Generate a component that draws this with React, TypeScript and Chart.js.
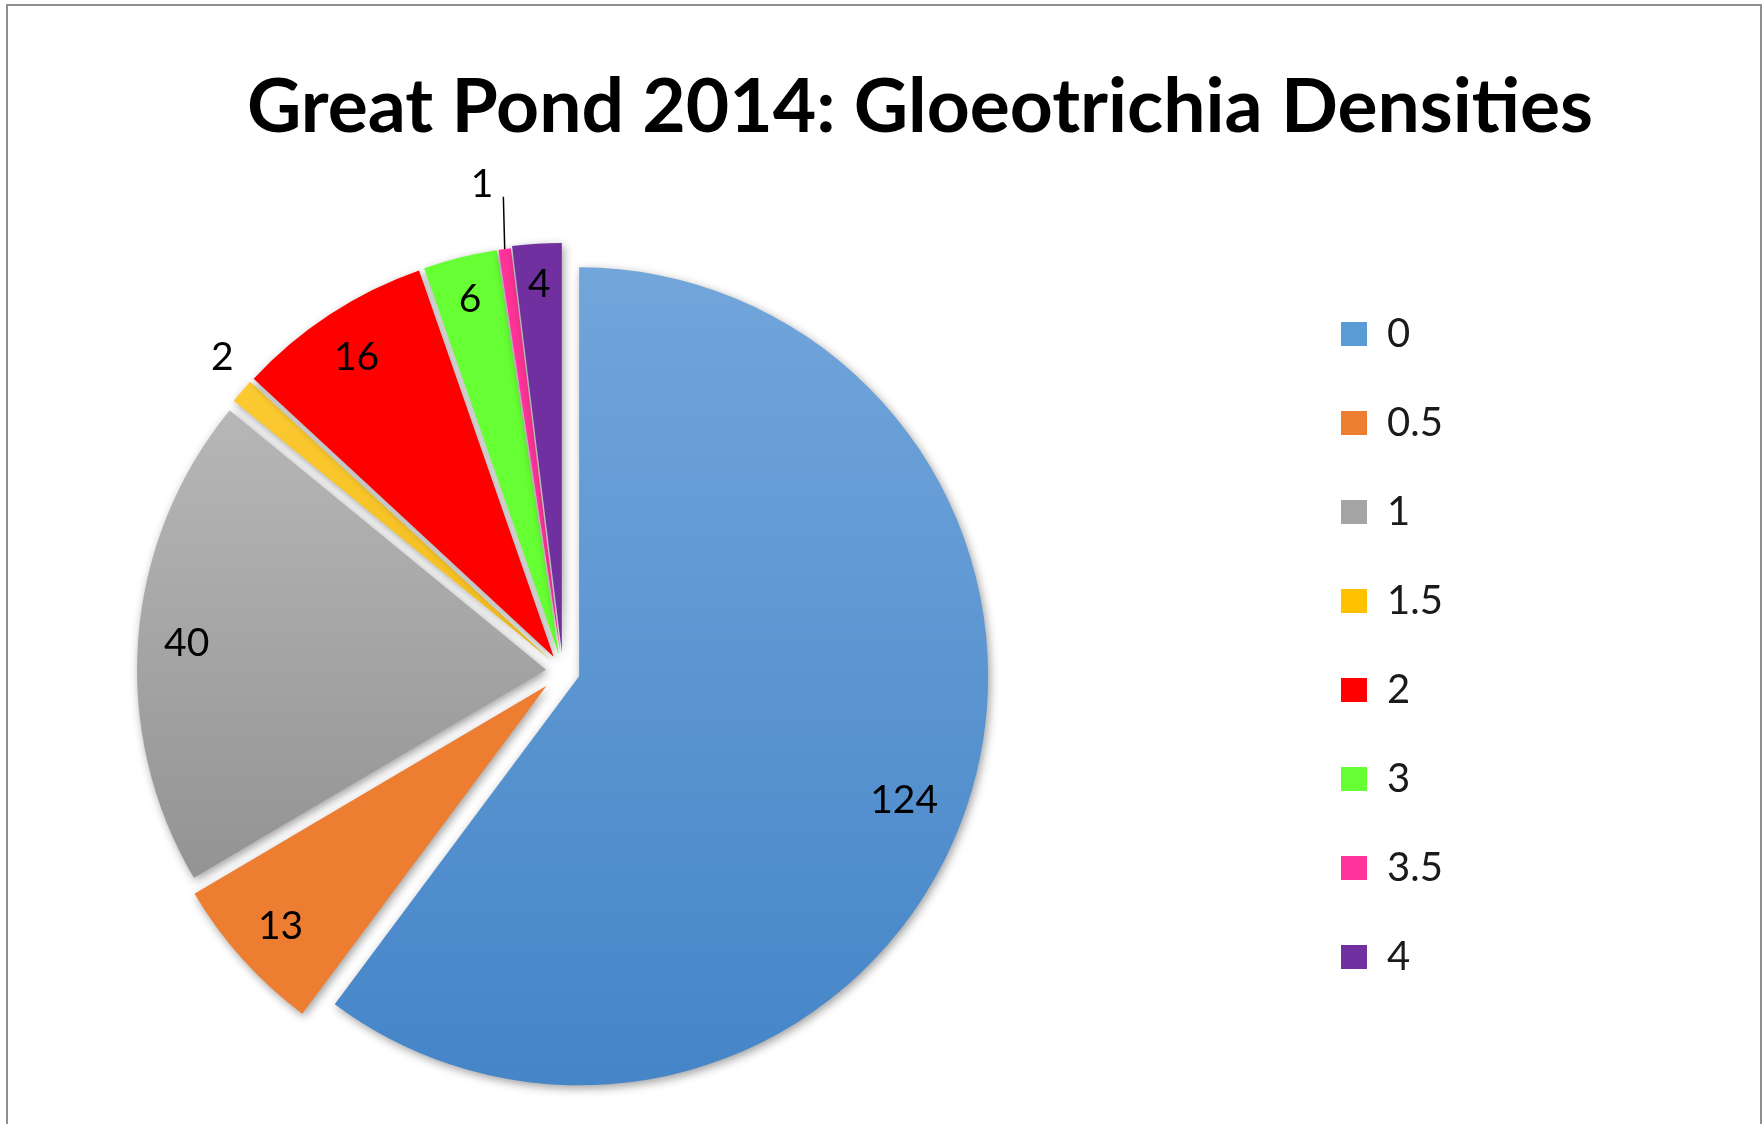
import React, { useEffect, useRef } from 'react';
import { Chart, registerables, layouts } from 'chart.js';

Chart.register(...registerables);

// ---- data ----
const TITLE = 'Great Pond 2014: Gloeotrichia Densities';
const CATEGORIES = ['0', '0.5', '1', '1.5', '2', '3', '3.5', '4'];
const COUNTS = [124, 13, 40, 2, 16, 6, 1, 4];

// ---- style ----
const W = 1764;
const H = 1124;
const BASE_COLORS = ['#5b9bd5', '#ed7d31', '#a5a5a5', '#ffc000', '#ff0000', '#66ff33', '#ff3399', '#7030a0'];
const GRADIENT_STOPS: Record<number, [string, string]> = {
  0: ['#72a6db', '#4585c8'],
  2: ['#c2c2c2', '#848484'],
  3: ['#ffcf3a', '#e6ab00'],
};
const PIE_RADIUS = 409;
const PIE_AREA_RIGHT = 1126; // pie area spans 0..1126 → centre x 563
const EXPLODE = [17, 22, 17, 17, 17, 17, 17, 19];
const FONT = 'Lato';
const LABEL_SIZE = 39;
const TITLE_SIZE = 75;
const LEGEND_SIZE = 40;
const LEGEND_PAD = 49;
const LEGEND_BOX_W = 26;
const LEGEND_BOX_H = 24;
const LEGEND_GAP = 166;
const LEADER_INDEX = 6;

const pieCenter = (chart: any) => {
  const ca = chart.chartArea;
  return { cx: (ca.left + ca.right) / 2, cy: (ca.top + ca.bottom) / 2 };
};

const sliceFill = (c: any) => {
  const i = c.dataIndex;
  const stops = GRADIENT_STOPS[i];
  const chart = c.chart;
  if (!stops || !chart.chartArea) return BASE_COLORS[i];
  const { cy } = pieCenter(chart);
  const g = chart.ctx.createLinearGradient(0, cy - PIE_RADIUS, 0, cy + PIE_RADIUS);
  g.addColorStop(0, stops[0]);
  g.addColorStop(1, stops[1]);
  return g;
};

// spacer between pie area and legend (a plain layout box)
const legendGapPlugin = {
  id: 'legendGap',
  beforeInit(chart: any) {
    const box: any = {
      position: 'right',
      weight: 500,
      fullSize: false,
      options: { stackWeight: 1 },
      left: 0, top: 0, right: 0, bottom: 0, width: 0, height: 0,
      isHorizontal() { return false; },
      update(_mw: number, mh: number) { this.width = LEGEND_GAP; this.height = mh; },
      draw() {},
    };
    layouts.addBox(chart, box);
  },
};

// explode slices + soft shadow
const explodePlugin = {
  id: 'explode',
  beforeDatasetDraw(chart: any, args: any) {
    const meta = chart.getDatasetMeta(args.index);
    const { cx, cy } = pieCenter(chart);
    meta.data.forEach((arc: any, i: number) => {
      const mid = (arc.startAngle + arc.endAngle) / 2;
      arc.x = cx + Math.cos(mid) * EXPLODE[i];
      arc.y = cy + Math.sin(mid) * EXPLODE[i];
    });
    const ctx = chart.ctx;
    ctx.save();
    ctx.shadowColor = 'rgba(0,0,0,0.38)';
    ctx.shadowBlur = 10;
    ctx.shadowOffsetX = 2;
    ctx.shadowOffsetY = 3;
  },
  afterDatasetDraw(chart: any) {
    chart.ctx.restore();
  },
};

const sliceLabelPlugin = {
  id: 'sliceLabels',
  afterDatasetsDraw(chart: any) {
    const meta = chart.getDatasetMeta(0);
    const ctx = chart.ctx;
    const total = COUNTS.reduce((a, b) => a + b, 0);
    ctx.save();
    ctx.font = `${LABEL_SIZE}px ${FONT}`;
    ctx.fillStyle = '#000';
    ctx.strokeStyle = '#000';
    ctx.textAlign = 'center';
    ctx.textBaseline = 'alphabetic';
    const hh = LABEL_SIZE * 0.36;
    meta.data.forEach((arc: any, i: number) => {
      const text = String(COUNTS[i]);
      const mid = (arc.startAngle + arc.endAngle) / 2;
      const R = arc.outerRadius;
      const hw = ctx.measureText(text).width / 2;
      const ext = (a: number) => Math.abs(hw * Math.cos(a)) + Math.abs(hh * Math.sin(a));
      let px: number;
      let py: number;
      if (COUNTS[i] / total >= 0.015) {
        const a = i === 0 ? mid + 0.04 : mid;
        const d = R - 25 - ext(a);
        px = arc.x + Math.cos(a) * d;
        py = arc.y + Math.sin(a) * d;
      } else if (i === LEADER_INDEX) {
        const a = mid - 0.028;
        const d = R + 69;
        px = arc.x + Math.cos(a) * d;
        py = arc.y + Math.sin(a) * d;
        const ex = arc.x + Math.cos(mid) * R;
        const ey = arc.y + Math.sin(mid) * R;
        ctx.lineWidth = 1.5;
        ctx.beginPath();
        ctx.moveTo(ex, ey);
        ctx.lineTo(px + hw + 10, py + hh);
        ctx.stroke();
      } else {
        const a = mid + 0.03;
        const d = R + 20 + ext(a);
        px = arc.x + Math.cos(a) * d;
        py = arc.y + Math.sin(a) * d;
      }
      ctx.fillText(text, px, py + hh);
    });
    ctx.restore();
  },
};

const titlePlugin = {
  id: 'pageTitle',
  afterDraw(chart: any) {
    const ctx = chart.ctx;
    ctx.save();
    ctx.font = `bold ${TITLE_SIZE}px ${FONT}`;
    ctx.fillStyle = '#000';
    ctx.textAlign = 'center';
    ctx.textBaseline = 'alphabetic';
    ctx.fillText(TITLE, 920, 132);
    ctx.restore();
  },
};

export default function App() {
  const ref = useRef<HTMLCanvasElement>(null);

  useEffect(() => {
    document.body.style.margin = '0';
    document.body.style.overflow = 'hidden';

    // legend width as Chart.js computes it, so the pie area ends where wanted
    const m = document.createElement('canvas').getContext('2d') as CanvasRenderingContext2D;
    m.font = `normal ${LEGEND_SIZE}px ${FONT}`;
    const maxText = Math.max(...CATEGORIES.map((t) => m.measureText(t).width));
    const legendWidth = LEGEND_PAD + LEGEND_BOX_W + LEGEND_SIZE / 2 + maxText + 10;
    const rightPad = W - PIE_AREA_RIGHT - LEGEND_GAP - legendWidth;

    const chart = new Chart(ref.current as HTMLCanvasElement, {
      type: 'pie',
      data: {
        labels: CATEGORIES,
        datasets: [
          {
            data: COUNTS,
            backgroundColor: sliceFill,
            borderWidth: 0,
            clip: false,
          } as any,
        ],
      },
      options: {
        responsive: false,
        animation: false,
        events: [],
        radius: PIE_RADIUS,
        layout: { padding: { left: 0, top: 265, right: rightPad, bottom: 47 } },
        plugins: {
          title: { display: false },
          tooltip: { enabled: false },
          legend: {
            display: true,
            position: 'right',
            align: 'start',
            labels: {
              boxWidth: LEGEND_BOX_W,
              boxHeight: LEGEND_BOX_H,
              padding: LEGEND_PAD,
              color: '#1a1a1a',
              font: { family: FONT, size: LEGEND_SIZE },
              generateLabels: () =>
                CATEGORIES.map((text, i) => ({
                  text,
                  fillStyle: BASE_COLORS[i],
                  strokeStyle: 'rgba(0,0,0,0)',
                  fontColor: '#1a1a1a',
                  lineWidth: 0,
                  hidden: false,
                  index: i,
                })),
            },
          },
        },
      } as any,
      plugins: [legendGapPlugin, explodePlugin, sliceLabelPlugin, titlePlugin],
    });
    return () => chart.destroy();
  }, []);

  return (
    <div style={{ position: 'relative', width: W, height: H, overflow: 'hidden', background: '#fff' }}>
      <canvas ref={ref} width={W} height={H} style={{ position: 'absolute', left: 0, top: 0, width: W, height: H }} />
      <div
        style={{
          position: 'absolute',
          left: 6,
          top: 4,
          width: 1756,
          height: 1400,
          border: '2px solid #8f8f8f',
          boxSizing: 'border-box',
          pointerEvents: 'none',
        }}
      />
    </div>
  );
}
